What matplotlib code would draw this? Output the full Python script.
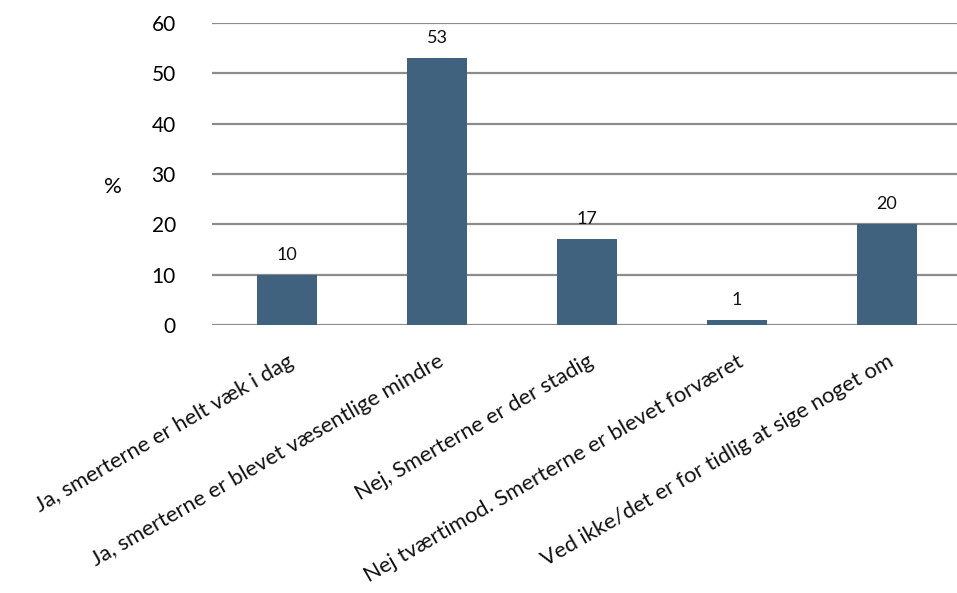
import matplotlib
matplotlib.use("Agg")
import matplotlib.pyplot as plt

categories = [
    "Ja, smerterne er helt væk i dag",
    "Ja, smerterne er blevet væsentlige mindre",
    "Nej, Smerterne er der stadig",
    "Nej tværtimod. Smerterne er blevet forværet",
    "Ved ikke/det er for tidlig at sige noget om",
]
values = [10, 53, 17, 1, 20]
yticks = [0, 10, 20, 30, 40, 50, 60]

plt.rcParams["font.family"] = ["Lato", "DejaVu Sans"]

fig = plt.figure(figsize=(9.57, 5.93), dpi=100)
ax = fig.add_axes([212 / 957, 1 - 325 / 593, 750 / 957, 302 / 593])

x = list(range(len(categories)))
ax.bar(x, values, width=0.4, color="#41627E", zorder=3)
for xi, v in zip(x, values):
    ax.text(xi, v + 2.4, str(v), ha="center", va="bottom", fontsize=13, color="#111111")

ax.set_xlim(-0.5, len(categories) - 0.5)
ax.set_ylim(0, 60)
ax.set_yticks(yticks)
ax.set_yticklabels([str(t) for t in yticks], fontsize=15)
ax.yaxis.grid(True, color="#8c8c8c", linewidth=1.6, zorder=0)
ax.set_axisbelow(True)
for s in ax.spines.values():
    s.set_visible(False)
ax.tick_params(axis="y", length=0, pad=26)
ax.tick_params(axis="x", length=0, pad=19)

ax.set_xticks(x)
ax.set_xticklabels(categories, rotation=30, ha="right", rotation_mode="anchor",
                   fontsize=15.8, color="#111111")

fig.text(113 / 957, 1 - 187 / 593, "%", fontsize=16, ha="center", va="center")

fig.savefig("out.png", dpi=100)
